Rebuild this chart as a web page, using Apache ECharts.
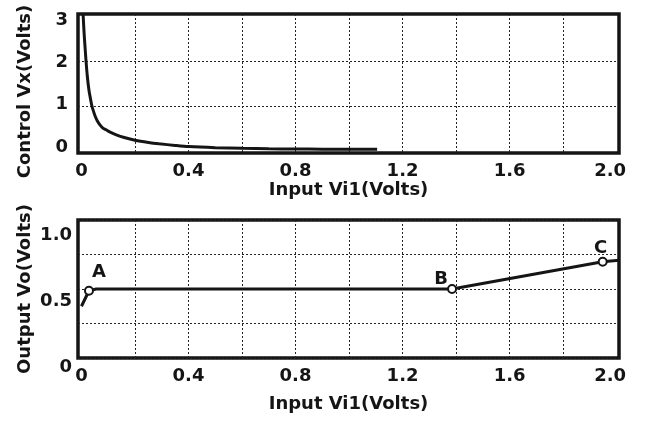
<!DOCTYPE html>
<html>
<head>
<meta charset="utf-8">
<script src="https://cdn.jsdelivr.net/npm/echarts@6/dist/echarts.min.js"></script>
<style>
  html, body { margin: 0; padding: 0; background: #fff; }
  #chart { width: 645px; height: 423px; }
</style>
</head>
<body>
<div id="chart"></div>
<script>
// Control voltage Vx as a function of the input Vi1
const vi1Control = [0.006, 0.010, 0.014, 0.017, 0.022, 0.028, 0.034, 0.039, 0.045, 0.052, 0.060, 0.069,
                    0.080, 0.095, 0.107, 0.13, 0.16, 0.20, 0.25, 0.29, 0.35, 0.40, 0.50, 0.60, 0.70,
                    0.80, 0.90, 1.00, 1.105];
const vxControl  = [3.04, 2.60, 2.25, 2.00, 1.65, 1.35, 1.15, 1.00, 0.88, 0.76, 0.66, 0.58,
                    0.51, 0.46, 0.42, 0.36, 0.30, 0.24, 0.19, 0.16, 0.125, 0.10, 0.075, 0.06, 0.05,
                    0.045, 0.042, 0.04, 0.04];

// Output voltage Vo as a function of the input Vi1
const vi1Output = [0.0, 0.028, 0.055, 1.385, 1.948, 2.009];
const voOutput  = [0.45, 0.585, 0.60, 0.60, 0.837, 0.85];

// Marked operating points
const pointNames = ['A', 'B', 'C'];
const pointVi1   = [0.028, 1.385, 1.948];
const pointVo    = [0.585, 0.60, 0.837];

// Axis ticks
const vi1TickLabels = [0, 0.4, 0.8, 1.2, 1.6, 2.0];
const vi1GridLines  = [0.2, 0.4, 0.6, 0.8, 1.0, 1.2, 1.4, 1.6, 1.8];
const vxTickLabels  = [0, 1, 2, 3];
const vxGridLines   = [1, 2];
const voTickLabels  = [0, 0.5, 1.0];

const FONT = 'DejaVu Sans';
const INK = '#151515';
const textStyle = { fontFamily: FONT, fontWeight: 'bold', fontSize: 18, color: INK };

const pointLabelOffset = { A: [10, -18], B: [-11, -10], C: [-2, -13] };

const dotted = { show: true, lineStyle: { color: '#222', width: 1, type: [2, 2] } };

function vi1Axis(gridIndex) {
  return {
    type: 'value', gridIndex: gridIndex, min: -0.013, max: 2.009,
    axisLine: { show: false },
    axisTick: { show: false, customValues: vi1GridLines },
    splitLine: dotted,
    axisLabel: Object.assign({}, textStyle, {
      margin: 9,
      customValues: vi1TickLabels,
      formatter: function (v) {
        if (v === 0) return '0';
        if (v >= 2) return '{last|' + v.toFixed(1) + '}';
        return v.toFixed(1);
      },
      rich: { last: Object.assign({}, textStyle, { padding: [0, 13, 0, 0] }) }
    }),
    name: 'Input Vi1(Volts)', nameLocation: 'middle',
    nameGap: gridIndex === 0 ? 28 : 37,
    nameTextStyle: textStyle
  };
}

const chart = echarts.init(document.getElementById('chart'), null, { renderer: 'canvas' });

const gridBase = { left: 78, right: 26, outerBoundsMode: 'none', containLabel: false };

chart.setOption({
  backgroundColor: '#fff',
  animation: false,
  grid: [
    Object.assign({}, gridBase, { top: 14, bottom: 270, show: true, borderColor: INK, borderWidth: 3.5, backgroundColor: 'transparent' }),
    Object.assign({}, gridBase, { top: 220, bottom: 65, show: true, borderColor: INK, borderWidth: 3.5, backgroundColor: 'transparent' }),
    Object.assign({}, gridBase, { top: 20, bottom: 276 }),
    Object.assign({}, gridBase, { top: 235, bottom: 56 })
  ],
  xAxis: [
    vi1Axis(0),
    vi1Axis(1),
    { type: 'value', gridIndex: 2, min: 0, max: 1, show: false },
    { type: 'value', gridIndex: 3, min: 0, max: 1, show: false }
  ],
  yAxis: [
    {
      type: 'value', gridIndex: 0, min: -0.044, max: 3.044,
      axisLine: { show: false },
      axisTick: { show: false, customValues: vxGridLines },
      axisLabel: { show: false },
      splitLine: dotted,
      name: 'Control Vx(Volts)', nameLocation: 'middle', nameGap: 44,
      nameTextStyle: Object.assign({}, textStyle, { padding: [0, 16, 0, 0] })
    },
    {
      type: 'value', gridIndex: 1, min: 0, max: 1.2, interval: 0.3,
      axisLine: { show: false },
      axisTick: { show: false },
      axisLabel: { show: false },
      splitLine: dotted,
      name: 'Output Vo(Volts)', nameLocation: 'middle', nameGap: 44,
      nameTextStyle: textStyle
    },
    {
      type: 'value', gridIndex: 2, min: vxTickLabels[0], max: vxTickLabels[vxTickLabels.length - 1], interval: 1,
      axisLine: { show: false }, axisTick: { show: false }, splitLine: { show: false },
      axisLabel: Object.assign({}, textStyle, { margin: 10, formatter: function (v) { return String(v); } })
    },
    {
      type: 'value', gridIndex: 3, min: voTickLabels[0], max: voTickLabels[voTickLabels.length - 1], interval: 0.5,
      axisLine: { show: false }, axisTick: { show: false }, splitLine: { show: false },
      axisLabel: Object.assign({}, textStyle, { margin: 6, formatter: function (v) { return v === 0 ? '0' : v.toFixed(1); } })
    }
  ],
  series: [
    {
      type: 'line', xAxisIndex: 0, yAxisIndex: 0,
      data: vi1Control.map(function (x, i) { return [x, vxControl[i]]; }),
      showSymbol: false, smooth: 0.25, clip: true,
      lineStyle: { color: INK, width: 3 }
    },
    {
      type: 'line', xAxisIndex: 1, yAxisIndex: 1,
      data: vi1Output.map(function (x, i) { return [x, voOutput[i]]; }),
      showSymbol: false, clip: true,
      lineStyle: { color: INK, width: 3 }
    },
    {
      type: 'scatter', xAxisIndex: 1, yAxisIndex: 1,
      symbol: 'circle', symbolSize: 8,
      itemStyle: { color: '#fff', borderColor: INK, borderWidth: 2, opacity: 1 },
      z: 5,
      data: pointNames.map(function (n, i) {
        return {
          name: n, value: [pointVi1[i], pointVo[i]],
          label: { offset: pointLabelOffset[n] }
        };
      }),
      label: Object.assign({}, textStyle, { show: true, position: 'inside', formatter: '{b}', textBorderWidth: 0 })
    }
  ]
});
</script>
</body>
</html>
